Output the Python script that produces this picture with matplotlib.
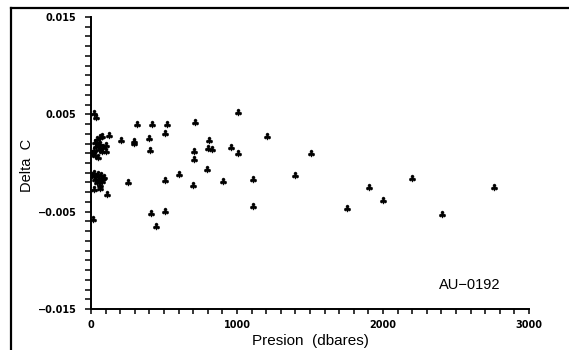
import matplotlib
matplotlib.use("Agg")
import matplotlib.pyplot as plt
from matplotlib.lines import Line2D
from matplotlib.ticker import MultipleLocator, FixedLocator

# Pressure (dbar) and temperature difference (deg C)
presion = [
    20, 32, 313, 415, 518, 712, 1005, 1203,
    77, 123, 203, 297, 297, 397, 505, 806, 801, 830, 957, 1009, 708, 703, 406,
    795, 605, 902, 1110, 505, 256, 701, 1107, 409, 507, 447, 12, 107, 23,
    1505, 1395, 1906, 2002, 1751, 2201, 2404, 2760,
    10, 20, 25, 30, 35, 40, 45, 50, 55, 60, 65, 75, 80, 100, 105,
    10, 20, 25, 35, 40, 45, 55, 60, 70, 75, 80, 90, 65,
]
delta_c = [
    0.0051, 0.0047, 0.0040, 0.0040, 0.0040, 0.0042, 0.0052, 0.0028,
    0.0028, 0.0029, 0.0024, 0.0023, 0.0021, 0.0026, 0.0031, 0.0024, 0.0015, 0.0014,
    0.0016, 0.0010, 0.0012, 0.0004, 0.0013,
    -0.0006, -0.0011, -0.0019, -0.0016, -0.0017, -0.0020, -0.0023, -0.0044,
    -0.0051, -0.0049, -0.0065, -0.0058, -0.0032, -0.0027,
    0.0010, -0.0012, -0.0025, -0.0038, -0.0046, -0.0015, -0.0052, -0.0025,
    0.0010, 0.0013, 0.0008, 0.0022, 0.0017, 0.0025, 0.0006, 0.0019, 0.0014,
    0.0027, 0.0020, 0.0012, 0.0016, 0.0018, 0.0012,
    -0.0012, -0.0010, -0.0016, -0.0013, -0.0020, -0.0011, -0.0017, -0.0023,
    -0.0012, -0.0019, -0.0015, -0.0014, -0.0026,
]

x_major = [0, 1000, 2000, 3000]
y_major = [-0.015, -0.005, 0.005, 0.015]
y_labels = ["\u22120.015", "\u22120.005", "0.005", "0.015"]

W, H = 569, 350
fig = plt.figure(figsize=(W / 100, H / 100), dpi=100)
ax = fig.add_axes([91 / W, 1 - 309 / H, (529 - 91) / W, (309 - 17) / H])

ax.plot(presion, delta_c, linestyle="none", marker=r"$\clubsuit$",
        markersize=5, color="black", markeredgewidth=0.3)

ax.set_xlim(0, 3000)
ax.set_ylim(-0.015, 0.015)

for s in ("top", "right"):
    ax.spines[s].set_visible(False)
for s in ("left", "bottom"):
    ax.spines[s].set_linewidth(1.4)
    ax.spines[s].set_color("black")

ax.xaxis.set_major_locator(FixedLocator(x_major))
ax.xaxis.set_minor_locator(MultipleLocator(100))
ax.yaxis.set_major_locator(FixedLocator(y_major))
ax.yaxis.set_minor_locator(MultipleLocator(0.001))
ax.set_xticklabels([str(v) for v in x_major])
ax.set_yticklabels(y_labels)

ax.tick_params(axis="both", which="both", direction="out", color="black",
               width=1.1)
ax.tick_params(axis="y", which="both", length=4.5, pad=6)
ax.tick_params(axis="x", which="both", length=3.5, pad=4.5)
for lab in ax.get_xticklabels() + ax.get_yticklabels():
    lab.set_fontsize(7)
    lab.set_fontweight("bold")
    lab.set_family("DejaVu Sans")

fig.text(27 / W, 1 - 165 / H, "Delta  C", rotation=90, ha="center",
         va="center", fontsize=10.5, family="Liberation Sans")
fig.text(310 / W, 1 - 341 / H, "Presion  (dbares)", ha="center",
         va="center", fontsize=11, family="Liberation Sans")
ax.text(2596, -0.0125, "AU\u22120192", ha="center", va="center",
        fontsize=10.5, family="Liberation Sans")

# Outer frame: top and left edges
fig.add_artist(Line2D([11 / W, 1.0], [1 - 8 / H, 1 - 8 / H],
                      transform=fig.transFigure, color="black", linewidth=1.6))
fig.add_artist(Line2D([11 / W, 11 / W], [0.0, 1 - 8 / H],
                      transform=fig.transFigure, color="black", linewidth=1.6))

fig.savefig("out.png", dpi=100)
